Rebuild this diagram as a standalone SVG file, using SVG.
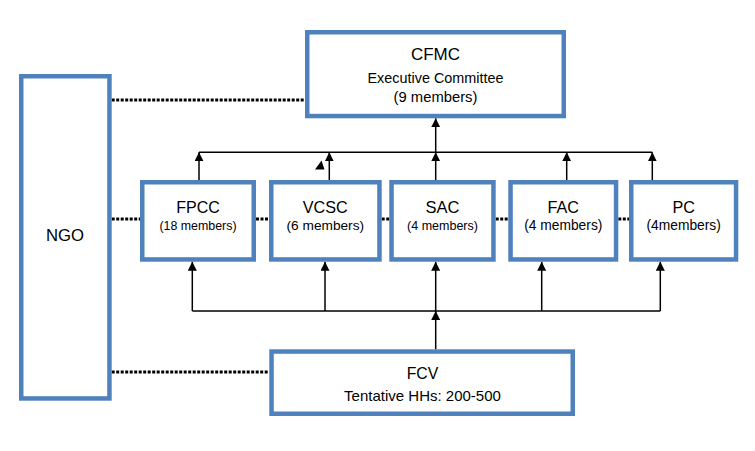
<svg xmlns="http://www.w3.org/2000/svg" width="755" height="451" viewBox="0 0 755 451">
  <style>
    .box { fill: #ffffff; stroke: #4F81BD; stroke-width: 4.5; }
    .t { font-family: "Liberation Sans", Arial, sans-serif; fill: #000000; text-anchor: middle; }
    .dot { stroke: #000000; stroke-width: 3; stroke-dasharray: 3 1.5; fill: none; }
    .arr { stroke: #000000; stroke-width: 1.5; fill: none; }
    .arrh { stroke: #000000; stroke-width: 1.5; fill: none; marker-end: url(#ah); }
  </style>
  <defs>
    <marker id="ah" markerUnits="userSpaceOnUse" markerWidth="10" markerHeight="10" refX="9" refY="4.5" orient="auto">
      <path d="M0,0 L9,4.5 L0,9 Z" fill="#000000"/>
    </marker>
  </defs>
  <rect width="755" height="451" fill="#ffffff"/>

  <g id="connectors">
    <!-- dotted links -->
    <line class="dot" x1="111.7" y1="100" x2="305" y2="100"/>
    <line class="dot" x1="111.7" y1="219" x2="140" y2="219"/>
    <line class="dot" x1="256" y1="219" x2="269" y2="219"/>
    <line class="dot" x1="381.7" y1="219" x2="389.3" y2="219"/>
    <line class="dot" x1="495.7" y1="219" x2="508.3" y2="219"/>
    <line class="dot" x1="618.3" y1="219" x2="629" y2="219"/>
    <line class="dot" x1="111.7" y1="372" x2="269.3" y2="372"/>
    <!-- top bus -->
    <line class="arr" x1="199" y1="152.3" x2="652.3" y2="152.3"/>
    <line class="arrh" x1="199" y1="180" x2="199" y2="152.3"/>
    <line class="arrh" x1="329.3" y1="180" x2="329.3" y2="152.3"/>
    <line class="arrh" x1="435.7" y1="180" x2="435.7" y2="152.3"/>
    <line class="arrh" x1="566.7" y1="180" x2="566.7" y2="152.3"/>
    <line class="arrh" x1="652.3" y1="180" x2="652.3" y2="152.3"/>
    <line class="arrh" x1="435.7" y1="152.3" x2="435.7" y2="118.3"/>
    <polygon points="315,169.5 321.5,160.5 324.5,169.5" fill="#000000"/>
    <!-- bottom bus -->
    <line class="arr" x1="192.3" y1="311" x2="660.3" y2="311"/>
    <line class="arrh" x1="192.3" y1="311" x2="192.3" y2="261.7"/>
    <line class="arrh" x1="325" y1="311" x2="325" y2="261.7"/>
    <line class="arrh" x1="435.7" y1="311" x2="435.7" y2="261.7"/>
    <line class="arrh" x1="541.7" y1="311" x2="541.7" y2="261.7"/>
    <line class="arrh" x1="660.3" y1="311" x2="660.3" y2="261.7"/>
    <line class="arrh" x1="435.7" y1="349.3" x2="435.7" y2="311"/>
  </g>

  <g id="ngo">
    <rect class="box" x="21.25" y="76.25" width="88.2" height="322.2"/>
    <text class="t" x="65" y="240.7" font-size="16.7">NGO</text>
  </g>

  <g id="cfmc">
    <rect class="box" x="307.25" y="32.25" width="256.5" height="83.8"/>
    <text class="t" x="435.5" y="60" font-size="17">CFMC</text>
    <text class="t" x="435.5" y="82.7" font-size="14.4">Executive Committee</text>
    <text class="t" x="435.5" y="101.5" font-size="14.8">(9 members)</text>
  </g>

  <g id="fpcc">
    <rect class="box" x="142.25" y="182.25" width="111.5" height="77.2"/>
    <text class="t" x="198" y="212.7" font-size="16">FPCC</text>
    <text class="t" x="198" y="229.5" font-size="12.4">(18 members)</text>
  </g>

  <g id="vcsc">
    <rect class="box" x="271.25" y="182.25" width="108.2" height="77.2"/>
    <text class="t" x="325.3" y="212.7" font-size="16.2">VCSC</text>
    <text class="t" x="325.3" y="229.5" font-size="13.7">(6 members)</text>
  </g>

  <g id="sac">
    <rect class="box" x="391.55" y="182.25" width="101.9" height="77.2"/>
    <text class="t" x="442.5" y="212.7" font-size="16.5">SAC</text>
    <text class="t" x="442.5" y="229.5" font-size="12.5">(4 members)</text>
  </g>

  <g id="fac">
    <rect class="box" x="510.55" y="182.25" width="105.5" height="77.2"/>
    <text class="t" x="563.3" y="212.7" font-size="16.2">FAC</text>
    <text class="t" x="563.3" y="229.5" font-size="13.8">(4 members)</text>
  </g>

  <g id="pc">
    <rect class="box" x="631.25" y="182.25" width="104.8" height="77.2"/>
    <text class="t" x="683.7" y="212.7" font-size="16.2">PC</text>
    <text class="t" x="683.7" y="229.5" font-size="13.8">(4members)</text>
  </g>

  <g id="fcv">
    <rect class="box" x="271.55" y="351.55" width="301.2" height="62.2"/>
    <text class="t" x="422.5" y="379.3" font-size="15.8">FCV</text>
    <text class="t" x="422.5" y="400.7" font-size="15">Tentative HHs: 200-500</text>
  </g>
</svg>
